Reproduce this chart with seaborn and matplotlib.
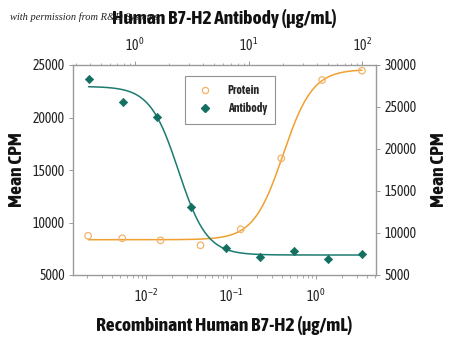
import numpy as np
import pandas as pd
import matplotlib
matplotlib.use("Agg")
import matplotlib.pyplot as plt
from matplotlib import font_manager
from matplotlib.lines import Line2D
import seaborn as sns

# ---- data ----
protein_conc = [0.00208, 0.00525, 0.0148, 0.0437, 0.130, 0.39, 1.18, 3.47]      # ug/mL (bottom axis)
protein_cpm = [8740, 8500, 8300, 7830, 9350, 16110, 23570, 24460]               # left axis
antibody_conc = [0.39, 0.78, 1.56, 3.125, 6.25, 12.5, 25, 50, 100]              # ug/mL (top axis)
antibody_cpm = [28370, 25630, 23770, 13130, 8180, 7180, 7890, 6940, 7460]       # right axis

# fitted 4-parameter logistic curves (bottom, top, EC50, hill)
protein_fit = dict(bottom=8360, top=24590, ec50=0.41, hill=2.5)
antibody_fit = dict(bottom=7380, top=27450, ec50=2.41, hill=3.48)

left_ticks = [5000, 10000, 15000, 20000, 25000]
right_ticks = [5000, 10000, 15000, 20000, 25000, 30000]

sns.set_style("ticks")
avail = {f.name for f in font_manager.fontManager.ttflist}
main_font = "DejaVu Sans"
for cand in ["Asap Condensed", "Barlow Semi Condensed", "Barlow Condensed", "Archivo Narrow",
             "Liberation Sans Narrow"]:
    if cand in avail:
        main_font = cand
        break
plt.rcParams["font.family"] = [main_font, "DejaVu Sans"]
plt.rcParams["mathtext.fontset"] = "custom"
plt.rcParams["mathtext.rm"] = main_font
plt.rcParams["mathtext.it"] = main_font + ":italic"

orange = "#F0A030"
orange_pt = "#F3B36A"
teal = "#1B7B70"
teal_pt = "#137060"
spine_col = "#9A9A9A"
txt_col = "#111111"

fig = plt.figure(figsize=(4.5, 3.4), dpi=100)
pos = [73 / 450, 1 - 275 / 340, (376 - 73) / 450, (275 - 65) / 340]
ax = fig.add_axes(pos)
ax2 = fig.add_axes(pos, frameon=False)


def logistic(x, bottom, top, ec50, hill):
    return bottom + (top - bottom) / (1 + (x / ec50) ** hill)


# protein (bottom x, left y)
xs_p = np.logspace(np.log10(protein_conc[0]), np.log10(protein_conc[-1]), 300)
df_pc = pd.DataFrame({"x": xs_p, "y": logistic(xs_p, protein_fit["top"], protein_fit["bottom"],
                                                  protein_fit["ec50"], protein_fit["hill"])})
sns.lineplot(data=df_pc, x="x", y="y", ax=ax, color=orange, lw=1.1)
df_p = pd.DataFrame({"x": protein_conc, "y": protein_cpm})
sns.scatterplot(data=df_p, x="x", y="y", ax=ax, marker="o", s=22,
                facecolor="none", edgecolor=orange_pt, linewidth=0.9, zorder=3)

# antibody (top x, right y)
xs_a = np.logspace(np.log10(antibody_conc[0]), np.log10(antibody_conc[-1]), 300)
df_ac = pd.DataFrame({"x": xs_a, "y": logistic(xs_a, antibody_fit["bottom"], antibody_fit["top"],
                                                  antibody_fit["ec50"], antibody_fit["hill"])})
sns.lineplot(data=df_ac, x="x", y="y", ax=ax2, color=teal, lw=1.1)
df_a = pd.DataFrame({"x": antibody_conc, "y": antibody_cpm})
sns.scatterplot(data=df_a, x="x", y="y", ax=ax2, marker="D", s=18,
                color=teal_pt, edgecolor=teal_pt, linewidth=0.5, zorder=3)

lab_kw = dict(fontsize=14, fontweight="bold", color=txt_col)
ax.set_xscale("log")
ax.set_xlim(10 ** -2.86, 10 ** 0.706)
ax.set_ylim(5000, 25000)
ax.set_yticks(left_ticks)
ax.set_ylabel("Mean CPM", labelpad=5, **lab_kw)
ax.set_xlabel("Recombinant Human B7-H2 (\u03bcg/mL)", labelpad=8, **lab_kw)

ax2.set_xscale("log")
ax2.set_xlim(10 ** -0.546, 10 ** 2.12)
ax2.set_ylim(5000, 30000)
ax2.set_yticks(right_ticks)
ax2.xaxis.tick_top()
ax2.xaxis.set_label_position("top")
ax2.yaxis.tick_right()
ax2.yaxis.set_label_position("right")
ax2.set_ylabel("Mean CPM", labelpad=10, **lab_kw)
ax2.set_xlabel("Human B7-H2 Antibody (\u03bcg/mL)", labelpad=9, **lab_kw)
ax2.patch.set_visible(False)

for a in (ax, ax2):
    a.tick_params(which="major", labelsize=10, length=3, width=0.7, color=spine_col, pad=3,
                  labelcolor="#222222")
    a.tick_params(which="minor", length=1.8, width=0.6, color=spine_col)
ax.tick_params(axis="x", which="major", pad=6)
ax2.tick_params(axis="x", which="major", pad=5)
for s in ax.spines.values():
    s.set_color(spine_col)
    s.set_linewidth(1.0)

handles = [
    Line2D([], [], ls="none", marker="o", markersize=4.5, markerfacecolor="none",
           markeredgecolor=orange_pt, markeredgewidth=0.9, label="Protein"),
    Line2D([], [], ls="none", marker="D", markersize=3.8, color=teal_pt, label="Antibody"),
]
leg = ax2.legend(handles=handles, loc="upper left", bbox_to_anchor=(0.37, 0.948),
                 frameon=True, fancybox=False, prop={"size": 8.5, "weight": "bold"},
                 handletextpad=0.9, borderpad=0.7, labelspacing=0.45, borderaxespad=0)
leg.get_frame().set_edgecolor("#777777")
leg.get_frame().set_linewidth(0.8)

fig.text(10 / 450, 1 - 17 / 340, "with permission from R&D Systems", fontsize=7.5,
         style="italic", family=["Liberation Serif", "DejaVu Serif"], color="#222222",
         va="center", ha="left", zorder=0)

fig.savefig("out.png", dpi=100)
